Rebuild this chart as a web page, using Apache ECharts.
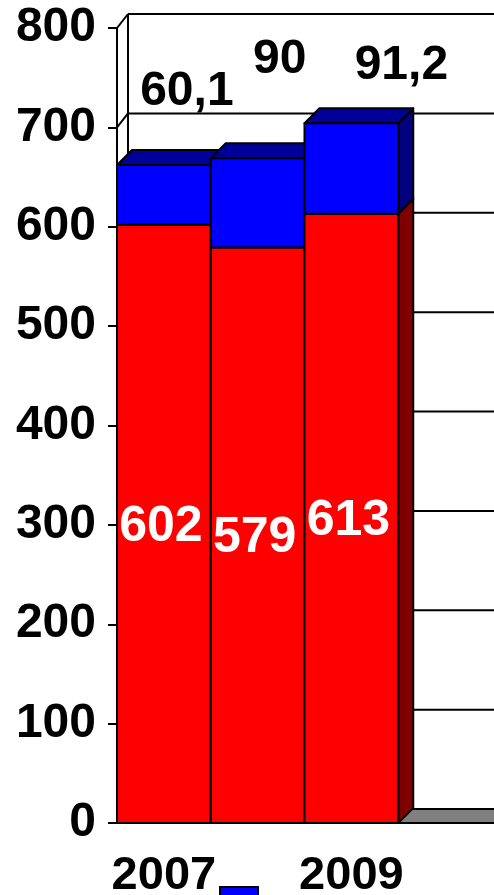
<!DOCTYPE html>
<html>
<head>
<meta charset="utf-8">
<script src="https://cdn.jsdelivr.net/npm/echarts@6/dist/echarts.min.js"></script>
<style>
  html, body { margin: 0; padding: 0; background: #fff; }
  #chart { width: 494px; height: 895px; }
</style>
</head>
<body>
<div id="chart"></div>
<script>
  // данные
  var years = ['2007', '2008', '2009', ''];
  var redValues = [602, 579, 613];
  var blueValues = [60.1, 90, 91.2];
  var redLabels = ['602', '579', '613'];
  var blueLabels = ['60,1', '90', '91,2'];

  // 3d look
  var DX = 15, DY = 15;   // bar depth
  var WX = 11, WY = 14;   // wall depth
  var LW = 2;
  var blueShift = [[23, -73], [22, -98], [50, -57]];
  var FONT = '"Liberation Sans", Arial, sans-serif';

  var myChart = echarts.init(document.getElementById('chart'), null, {renderer: 'canvas'});

  // seg: 0 = нижний (красный), 1 = верхний (синий) -> z2 per bar so bars paint left to right
  function cuboid(api, seg, colors, label) {
    var i = api.value(0);
    var lo = api.coord([i, api.value(1)]);
    var hi = api.coord([i, api.value(2)]);
    var w = api.size([1, 0])[0];
    var x0 = lo[0] - w / 2, x1 = x0 + w;
    var y0 = lo[1], y1 = hi[1];
    var zb = i * 10 + seg * 4;
    var st = {stroke: '#000', lineWidth: LW, lineJoin: 'round'};
    var kids = [
      {type: 'polygon', z2: zb + 1, shape: {points: [[x1, y1], [x1 + DX, y1 - DY], [x1 + DX, y0 - DY], [x1, y0]]},
        style: Object.assign({fill: colors[2]}, st)},
      {type: 'polygon', z2: zb + 2, shape: {points: [[x0, y1], [x1, y1], [x1 + DX, y1 - DY], [x0 + DX, y1 - DY]]},
        style: Object.assign({fill: colors[1]}, st)},
      {type: 'rect', z2: zb + 3, shape: {x: x0, y: y1, width: w, height: y0 - y1},
        style: Object.assign({fill: colors[0]}, st)}
    ];
    if (label) {
      var p = label(i, x0 + w / 2, y0, y1);
      kids.push({type: 'text', z2: 100, x: p[0], y: p[1],
        style: {text: p[2], fill: p[3], font: 'bold ' + p[4] + 'px ' + FONT, align: 'center', verticalAlign: 'middle'}});
    }
    return {type: 'group', children: kids};
  }

  var option = {
    animation: false,
    backgroundColor: '#fff',
    grid: {left: 117, right: 2, top: 28, bottom: 72, outerBoundsMode: 'none', containLabel: false},
    legend: {
      data: ['Ряд 2'],
      left: 214, top: 881,
      icon: 'rect', itemWidth: 38, itemHeight: 28, itemGap: 0,
      itemStyle: {borderColor: '#000', borderWidth: LW},
      formatter: function () { return ''; }
    },
    xAxis: {
      type: 'category',
      data: years,
      axisLine: {lineStyle: {color: '#000', width: LW}},
      axisTick: {interval: 0, length: 7, lineStyle: {color: '#000', width: LW}},
      axisLabel: {interval: 1, margin: 30, color: '#000', fontSize: 47, fontWeight: 'bold', fontFamily: FONT},
      splitLine: {show: false}
    },
    yAxis: {
      type: 'value',
      min: 0, max: 800, interval: 100,
      axisLine: {show: true, lineStyle: {color: '#000', width: LW}},
      axisTick: {show: true, length: 9, lineStyle: {color: '#000', width: LW}},
      axisLabel: {margin: 21, color: '#000', fontSize: 48, fontWeight: 'bold', fontFamily: FONT, padding: [7, 0, 0, 0]},
      splitLine: {show: false}
    },
    series: [
      {
        name: 'walls',
        type: 'custom',
        z: 1,
        silent: true,
        data: [[0]],
        renderItem: function (params, api) {
          var cs = params.coordSys;
          var x0 = cs.x, x1 = cs.x + cs.width + 30;
          var yb = cs.y + cs.height, yt = cs.y;
          var st = {stroke: '#000', lineWidth: LW};
          var kids = [
            {type: 'polygon', shape: {points: [[x0, yb], [x1, yb], [x1 + WX, yb - WY], [x0 + WX, yb - WY]]},
              style: {fill: '#808080', stroke: '#000', lineWidth: LW}},
            {type: 'line', shape: {x1: x0 + WX, y1: yb - WY, x2: x0 + WX, y2: yt - WY}, style: st}
          ];
          for (var v = 0; v <= 800; v += 100) {
            var y = api.coord([0, v])[1];
            kids.push({type: 'line', shape: {x1: x0, y1: y, x2: x0 + WX, y2: y - WY}, style: st});
            if (v > 0) {
              kids.push({type: 'line', shape: {x1: x0 + WX, y1: y - WY, x2: x1 + WX, y2: y - WY}, style: st});
            }
          }
          return {type: 'group', children: kids};
        }
      },
      {
        name: 'Ряд 1',
        type: 'custom',
        z: 2,
        itemStyle: {color: '#ff0000'},
        data: redValues.map(function (v, i) { return [i, 0, v]; }),
        renderItem: function (params, api) {
          return cuboid(api, 0, ['#ff0000', '#990000', '#800000'], function (i, cx, y0, y1) {
            return [cx - 3, (y0 + y1) / 2 + 3, redLabels[i], '#fff', 50];
          });
        }
      },
      {
        name: 'Ряд 2',
        type: 'custom',
        z: 2,
        itemStyle: {color: '#0000ff'},
        data: blueValues.map(function (v, i) { return [i, redValues[i], redValues[i] + v]; }),
        renderItem: function (params, api) {
          return cuboid(api, 1, ['#0000ff', '#000099', '#000080'], function (i, cx, y0, y1) {
            return [cx + blueShift[i][0], y1 + blueShift[i][1], blueLabels[i], '#000', 48];
          });
        }
      }
    ]
  };
  myChart.setOption(option);
</script>
</body>
</html>
